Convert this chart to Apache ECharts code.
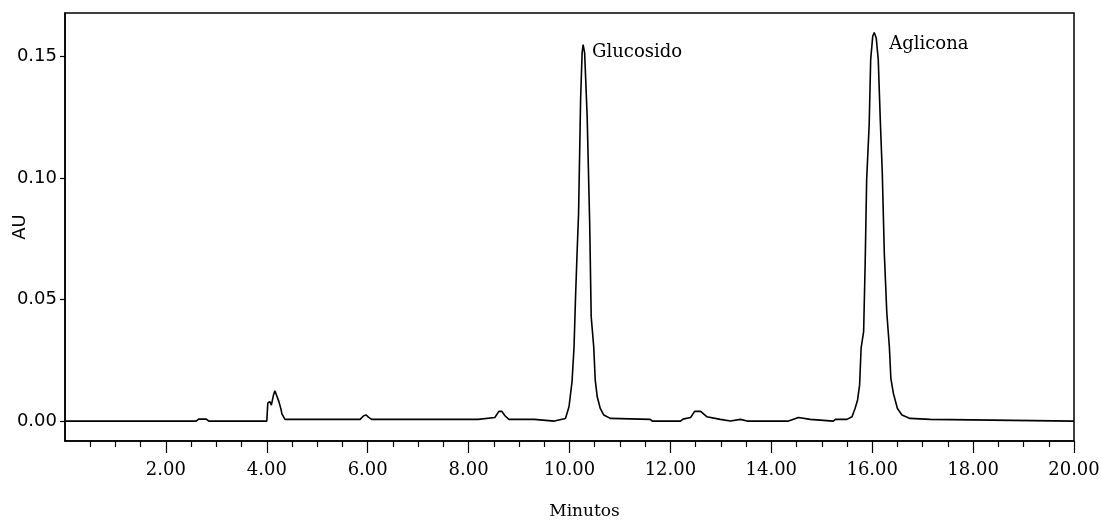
<!DOCTYPE html>
<html>
<head>
<meta charset="utf-8">
<script src="https://cdn.jsdelivr.net/npm/echarts@6/dist/echarts.min.js"></script>
<style>
  html, body { margin: 0; padding: 0; background: #fff; }
  #chart { width: 1102px; height: 520px; }
</style>
</head>
<body>
<div id="chart"></div>
<script>
// retention time (min) and absorbance (AU)
var timeMin = [
    0.00, 2.60, 2.65, 2.80, 2.85, 4.00, 4.02, 4.06, 4.09, 4.13, 4.16, 4.19, 4.24, 4.28, 4.30, 4.36,
    5.85, 5.92, 5.97, 6.02, 6.08, 8.19, 8.21, 8.52, 8.60, 8.66, 8.72, 8.80, 9.30, 9.33, 9.70, 9.72,
    9.92, 9.99, 10.05, 10.09, 10.12, 10.15, 10.18, 10.22, 10.25, 10.27, 10.30, 10.35, 10.40, 10.43,
    10.48, 10.51, 10.55, 10.61, 10.68, 10.81, 11.60, 11.64, 12.20, 12.25, 12.40, 12.48, 12.60, 12.72,
    12.99, 13.19, 13.39, 13.52, 14.34, 14.37, 14.54, 14.77, 15.23, 15.27, 15.50, 15.60, 15.66, 15.71,
    15.75, 15.78, 15.83, 15.86, 15.89, 15.94, 15.97, 16.01, 16.04, 16.08, 16.12, 16.16, 16.20, 16.24,
    16.29, 16.34, 16.37, 16.42, 16.50, 16.59, 16.75, 17.15, 17.18, 20.00
];
var absorbance = [
    0, 0, 0.0008, 0.0008, 0, 0, 0.0075, 0.0080, 0.0066, 0.0105, 0.0125, 0.0122, 0.0080, 0.0050, 0.0030, 0.0007,
    0.0007, 0.0022, 0.0025, 0.0015, 0.0007, 0.0007, 0.0015, 0.0015, 0.0040, 0.0040, 0.0022, 0.0007, 0.0007, 0, 0, 0.0008,
    0.0011, 0.0059, 0.0162, 0.0306, 0.0512, 0.0691, 0.0856, 0.1323, 0.1516, 0.1550, 0.1516, 0.1254, 0.0815, 0.0430,
    0.0306, 0.0169, 0.0100, 0.0052, 0.0025, 0.0011, 0.0007, 0, 0, 0.0008, 0.0015, 0.0040, 0.0040, 0.0018,
    0.0007, 0, 0.0007, 0, 0, 0.0008, 0.0015, 0.0007, 0, 0.0007, 0.0007, 0.0018, 0.0052, 0.0087,
    0.0148, 0.0300, 0.0368, 0.0643, 0.0993, 0.1220, 0.1488, 0.1584, 0.1600, 0.1577, 0.1488, 0.1241, 0.1021, 0.0691,
    0.0444, 0.0306, 0.0176, 0.0114, 0.0052, 0.0025, 0.0011, 0.0007, 0, 0
];
var xTicks = [2, 4, 6, 8, 10, 12, 14, 16, 18, 20];
var yTicks = [0, 0.05, 0.10, 0.15];
var peakNames = ['Glucosido', 'Aglicona'];
var peakTimes = [10.27, 16.04];
var peakHeights = [0.155, 0.160];

var trace = [];
for (var i = 0; i < timeMin.length; i++) {
    trace.push([timeMin[i], absorbance[i]]);
}

var labelOffsets = [[4, 8], [10, 12]];
var peakMarks = [];
for (var k = 0; k < peakNames.length; k++) {
    peakMarks.push({
        name: peakNames[k],
        coord: [peakTimes[k], peakHeights[k]],
        label: { offset: labelOffsets[k] }
    });
}

var serif = 'DejaVu Serif';
var sans = 'DejaVu Sans';

var chart = echarts.init(document.getElementById('chart'), null, { renderer: 'canvas' });
chart.setOption({
    animation: false,
    backgroundColor: '#fff',
    grid: {
        left: 65, right: 28, top: 13, bottom: 79,
        outerBoundsMode: 'none',
        containLabel: false,
        show: true, borderColor: '#000', borderWidth: 1.5, backgroundColor: 'transparent'
    },
    xAxis: {
        type: 'value',
        min: 0, max: 20, interval: 2,
        name: 'Minutos',
        nameLocation: 'middle',
        nameGap: 62,
        nameMoveOverlap: false,
        nameTextStyle: { fontFamily: serif, fontSize: 17, color: '#000', padding: [0, 0, 0, 30] },
        axisLine: { show: true, onZero: false, lineStyle: { color: '#000', width: 1.5 } },
        axisTick: { show: true, length: 12, customValues: xTicks, lineStyle: { color: '#000', width: 1.2 } },
        minorTick: { show: true, splitNumber: 4, length: 6, lineStyle: { color: '#000', width: 1.2 } },
        axisLabel: {
            margin: 20, customValues: xTicks,
            fontFamily: serif, fontSize: 18, color: '#000',
            formatter: function (v) { return v.toFixed(2); }
        },
        splitLine: { show: false }
    },
    yAxis: {
        type: 'value',
        min: -0.0082, max: 0.168,
        name: 'AU',
        nameLocation: 'middle',
        nameGap: 36,
        nameMoveOverlap: false,
        nameRotate: 90,
        nameTextStyle: { fontFamily: sans, fontSize: 18, color: '#000' },
        axisLine: { show: true, lineStyle: { color: '#000', width: 1.5 } },
        axisTick: { show: true, length: 5, customValues: yTicks, lineStyle: { color: '#000', width: 1.2 } },
        axisLabel: {
            margin: 8, customValues: yTicks,
            fontFamily: sans, fontSize: 18, color: '#000',
            formatter: function (v) { return v.toFixed(2); }
        },
        splitLine: { show: false }
    },
    series: [{
        type: 'line',
        data: trace,
        showSymbol: false,
        lineStyle: { color: '#000', width: 1.6 },
        markPoint: {
            symbol: 'circle',
            symbolSize: 0,
            label: {
                show: true, position: 'right',
                fontFamily: serif, fontSize: 18, color: '#000',
                formatter: '{b}'
            },
            data: peakMarks
        }
    }]
});
</script>
</body>
</html>
